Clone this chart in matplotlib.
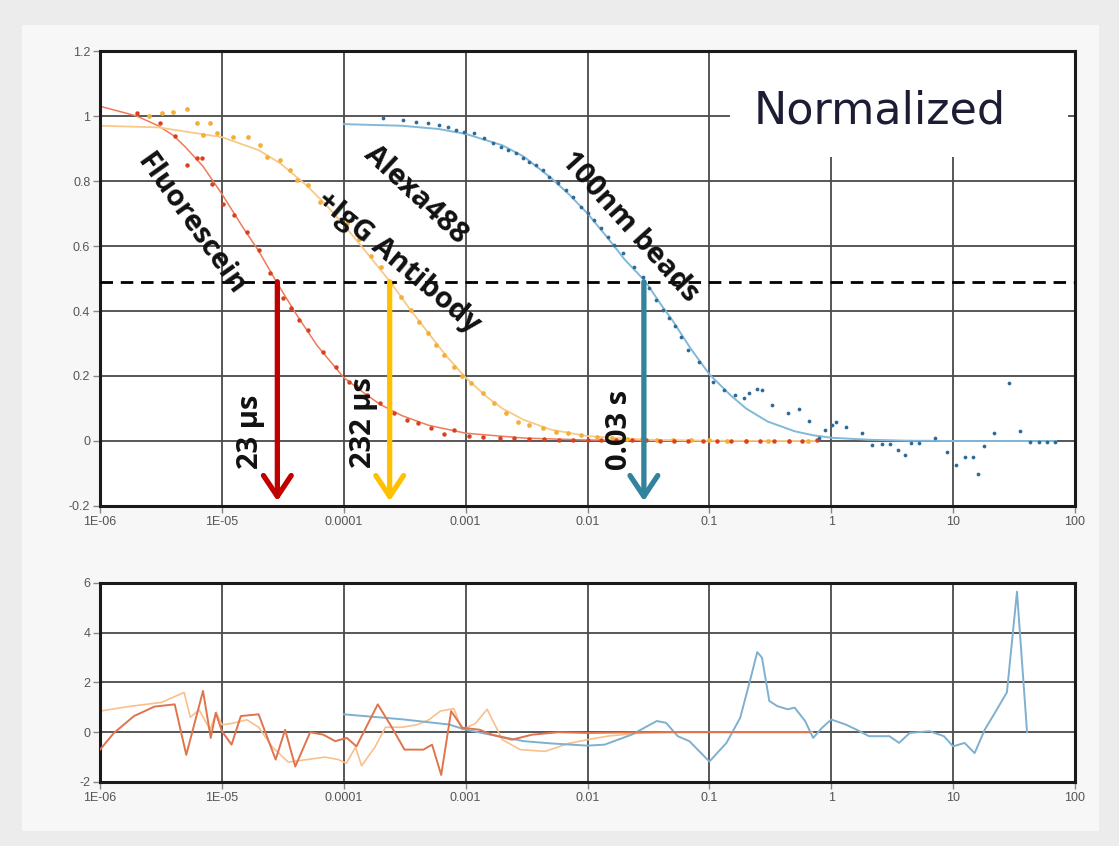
"""
plot.py

Normalized FCS autocorrelation curves for Fluorescein, Alexa488 + IgG antibody
and 100nm beads (dots = data, thin lines = fits), half-decay arrows at G = 0.49,
and the fit residuals in a second panel underneath.

Output: out.png
"""

import matplotlib
matplotlib.use("Agg")
import matplotlib.pyplot as plt
from matplotlib.patches import Rectangle
from matplotlib.ticker import FixedLocator, FixedFormatter, NullLocator

# ---------------------------------------------------------------- data
X_TICKS = [1e-6, 1e-5, 1e-4, 1e-3, 1e-2, 1e-1, 1, 10, 100]
X_TICK_LABELS = ["1E-06", "1E-05", "0.0001", "0.001", "0.01", "0.1", "1", "10", "100"]
Y_TICKS_TOP = [-0.2, 0, 0.2, 0.4, 0.6, 0.8, 1, 1.2]
Y_TICK_LABELS_TOP = ["-0.2", "0", "0.2", "0.4", "0.6", "0.8", "1", "1.2"]
Y_TICKS_BOT = [-2, 0, 2, 4, 6]
Y_TICK_LABELS_BOT = ["-2", "0", "2", "4", "6"]

# Fluorescein data points
fl_t = [2.0e-6, 3.1e-6, 4.1e-6, 5.2e-6, 6.3e-6, 6.9e-6, 8.3e-6, 1.02e-5, 1.25e-5,
        1.6e-5, 2.0e-5, 2.5e-5, 3.2e-5, 3.7e-5, 4.3e-5, 5.1e-5, 6.7e-5, 8.6e-5,
        1.1e-4, 1.25e-4, 1.55e-4, 2.0e-4, 2.6e-4, 3.3e-4, 4.1e-4, 5.2e-4, 6.6e-4,
        8.0e-4, 1.06e-3, 1.4e-3, 1.9e-3, 2.5e-3, 3.3e-3, 4.4e-3, 5.8e-3, 7.6e-3,
        0.010, 0.013, 0.017, 0.023, 0.030, 0.039, 0.051, 0.067, 0.088, 0.115,
        0.15, 0.20, 0.26, 0.34, 0.45, 0.58, 0.76]
fl_g = [1.01, 0.98, 0.94, 0.85, 0.87, 0.87, 0.79, 0.73, 0.695,
        0.643, 0.588, 0.517, 0.44, 0.409, 0.372, 0.342, 0.274, 0.228,
        0.182, 0.17, 0.14, 0.117, 0.086, 0.065, 0.055, 0.040, 0.021,
        0.034, 0.015, 0.012, 0.010, 0.008, 0.006, 0.005, 0.004, 0.004,
        0.003, 0.003, 0.002, 0.002, 0.002, 0.001, 0.001, 0.001, 0.0, 0.0,
        0.0, 0.0, 0.0, 0.0, 0.0, 0.0, 0.002]
fl_fit_t = [1e-6, 2e-6, 3e-6, 4e-6, 5e-6, 7e-6, 1e-5, 1.5e-5, 2e-5, 2.8e-5, 4e-5,
            6e-5, 1e-4, 1.5e-4, 2e-4, 3e-4, 5e-4, 1e-3, 3e-3, 1e-2, 0.1, 0.76]
fl_fit_g = [1.03, 1.0, 0.97, 0.94, 0.905, 0.845, 0.76, 0.655, 0.585, 0.49, 0.395,
            0.295, 0.195, 0.145, 0.112, 0.078, 0.048, 0.024, 0.009, 0.003, 0.0, 0.0]

# Alexa488 + IgG antibody data points
al_t = [2.5e-6, 3.2e-6, 4.0e-6, 5.2e-6, 6.3e-6, 7.0e-6, 8.0e-6, 9.2e-6, 1.24e-5,
        1.65e-5, 2.07e-5, 2.36e-5, 3.02e-5, 3.65e-5, 4.17e-5, 5.04e-5, 6.44e-5,
        8.24e-5, 1.07e-4, 1.33e-4, 1.66e-4, 2.01e-4, 2.43e-4, 2.93e-4, 3.54e-4,
        4.12e-4, 4.89e-4, 5.69e-4, 6.62e-4, 8.0e-4, 9.4e-4, 1.1e-3, 1.38e-3,
        1.71e-3, 2.14e-3, 2.69e-3, 3.31e-3, 4.32e-3, 5.52e-3, 6.92e-3, 8.85e-3,
        0.012, 0.016, 0.021, 0.028, 0.037, 0.05, 0.07, 0.1, 0.14, 0.2, 0.3, 0.45, 0.65]
al_g = [1.0, 1.01, 1.012, 1.022, 0.978, 0.942, 0.978, 0.948, 0.935,
        0.935, 0.911, 0.874, 0.865, 0.834, 0.803, 0.788, 0.735,
        0.702, 0.671, 0.623, 0.57, 0.534, 0.486, 0.443, 0.403,
        0.366, 0.332, 0.295, 0.265, 0.228, 0.2, 0.178, 0.148,
        0.117, 0.086, 0.058, 0.049, 0.04, 0.028, 0.025, 0.018,
        0.012, 0.009, 0.007, 0.005, 0.004, 0.003, 0.002, 0.002, 0.001, 0.001, 0.0, 0.0, 0.0]
al_fit_t = [1e-6, 3e-6, 1e-5, 2e-5, 3e-5, 5e-5, 7e-5, 1e-4, 1.5e-4, 2.4e-4, 3.5e-4,
            5e-4, 7e-4, 1e-3, 1.5e-3, 2e-3, 3e-3, 5e-3, 1e-2, 3e-2, 0.1, 0.76]
al_fit_g = [0.97, 0.965, 0.935, 0.895, 0.855, 0.785, 0.73, 0.665, 0.585, 0.49, 0.405,
            0.33, 0.26, 0.195, 0.135, 0.1, 0.065, 0.035, 0.015, 0.004, 0.001, 0.0]

# 100nm beads data points
bd_t = [2.08e-4, 3.05e-4, 3.89e-4, 4.89e-4, 6.02e-4, 7.14e-4, 8.30e-4, 9.66e-4,
        1.17e-3, 1.41e-3, 1.67e-3, 1.95e-3, 2.22e-3, 2.59e-3, 2.95e-3, 3.31e-3,
        3.78e-3, 4.31e-3, 4.83e-3, 5.73e-3, 6.67e-3, 7.62e-3, 8.86e-3, 1.01e-2,
        1.13e-2, 1.29e-2, 1.48e-2, 1.66e-2, 1.96e-2, 2.42e-2, 2.87e-2, 3.21e-2,
        3.67e-2, 4.19e-2, 4.69e-2, 0.052, 0.058, 0.0671, 0.0828, 0.108, 0.133,
        0.161, 0.191, 0.213, 0.244, 0.268, 0.324, 0.438, 0.539, 0.652, 0.787,
        0.883, 1.007, 1.09, 1.31, 1.78, 2.15, 2.60, 3.02, 3.51, 4.01, 4.50, 5.24,
        7.09, 8.89, 10.5, 12.5, 14.6, 16.0, 17.9, 21.7, 28.8, 35.4, 42.8, 50.8,
        59.1, 68.7]
bd_g = [0.994, 0.988, 0.982, 0.978, 0.972, 0.966, 0.957, 0.951,
        0.948, 0.932, 0.917, 0.905, 0.895, 0.886, 0.871, 0.858,
        0.849, 0.834, 0.812, 0.794, 0.772, 0.751, 0.720, 0.702,
        0.680, 0.655, 0.628, 0.603, 0.578, 0.535, 0.505, 0.471,
        0.434, 0.403, 0.378, 0.355, 0.32, 0.28, 0.243, 0.182, 0.157,
        0.142, 0.132, 0.148, 0.16, 0.157, 0.111, 0.086, 0.098, 0.062, 0.009,
        0.034, 0.049, 0.058, 0.043, 0.025, -0.012, -0.009, -0.009, -0.028, -0.043, -0.006, -0.006,
        0.009, -0.034, -0.074, -0.049, -0.049, -0.102, -0.015, 0.025, 0.178, 0.031, -0.003, -0.003,
        -0.003, -0.003]
bd_fit_t = [1e-4, 3e-4, 6e-4, 1e-3, 2e-3, 3e-3, 5e-3, 7e-3, 1e-2, 1.5e-2, 2e-2, 3e-2,
            4e-2, 5e-2, 7e-2, 0.1, 0.15, 0.2, 0.3, 0.5, 0.7, 1.0, 2.0, 4.0, 10, 70]
bd_fit_g = [0.975, 0.97, 0.96, 0.945, 0.91, 0.875, 0.81, 0.76, 0.70, 0.62, 0.56, 0.49,
            0.42, 0.37, 0.285, 0.205, 0.14, 0.10, 0.06, 0.03, 0.018, 0.01, 0.004, 0.001, 0.0, 0.0]

# half-decay times (arrow positions) and their labels
HALF_LEVEL = 0.49
half_t = [2.85e-5, 2.38e-4, 0.029]
half_labels = ["23 µs", "232 µs", "0.03 s"]
half_label_x = [1.71e-5, 1.46e-4, 0.0182]
half_label_y = [0.028, 0.058, 0.034]

# curve names and where they sit along the curves
curve_names = ["Fluorescein", "Alexa488", "+IgG Antibody", "100nm beads"]
curve_name_x = [5.6e-6, 3.89e-4, 2.83e-4, 0.022]
curve_name_y = [0.665, 0.757, 0.551, 0.658]
curve_name_rot = [-54.5, -43, -40, -48]

# residuals
fl_res_t = [1.0e-6, 1.3e-6, 1.9e-6, 2.8e-6, 4.1e-6, 5.1e-6, 7.0e-6, 8.1e-6, 8.9e-6,
            1.0e-5, 1.2e-5, 1.43e-5, 2.0e-5, 2.76e-5, 3.3e-5, 4.0e-5, 5.3e-5, 6.8e-5,
            8.5e-5, 1.06e-4, 1.27e-4, 1.9e-4, 2.45e-4, 3.15e-4, 4.5e-4, 5.3e-4, 6.3e-4,
            7.6e-4, 9.4e-4, 1.3e-3, 1.65e-3, 2.4e-3, 3.5e-3, 5.8e-3, 0.01, 0.03, 0.1,
            0.3, 0.66]
fl_res = [-0.70, -0.03, 0.65, 1.03, 1.12, -0.91, 1.66, -0.23, 0.78,
          0.04, -0.5, 0.65, 0.72, -1.1, 0.1, -1.38, 0.0, -0.1,
          -0.36, -0.23, -0.57, 1.12, 0.24, -0.7, -0.7, -0.5, -1.72,
          0.85, 0.18, 0.1, -0.1, -0.3, -0.1, 0.0, -0.03, 0.0, 0.0,
          0.0, 0.0]
al_res_t = [1.0e-6, 1.7e-6, 3.2e-6, 4.9e-6, 5.5e-6, 6.5e-6, 8e-6, 9e-6, 1.0e-5,
            1.2e-5, 1.6e-5, 2.0e-5, 2.6e-5, 3.5e-5, 5e-5, 7e-5, 9e-5, 1.05e-4,
            1.25e-4, 1.4e-4, 1.8e-4, 2.2e-4, 3e-4, 4e-4, 5e-4, 6.2e-4, 8e-4,
            9.3e-4, 1.2e-3, 1.5e-3, 2.0e-3, 2.8e-3, 4.5e-3, 7e-3, 0.01, 0.015,
            0.025, 0.05, 0.1, 0.3, 0.7]
al_res = [0.85, 1.03, 1.2, 1.6, 0.6, 0.9, 0.1, 0.8, 0.3,
          0.35, 0.5, 0.2, -0.6, -1.2, -1.1, -1.0, -1.1, -1.25,
          -0.6, -1.35, -0.6, 0.2, 0.2, 0.3, 0.5, 0.85, 0.95,
          0.1, 0.35, 0.92, -0.3, -0.7, -0.77, -0.45, -0.3, -0.15,
          -0.05, 0.0, 0.0, 0.0, 0.0]
bd_res_t = [1.0e-4, 3e-4, 7.3e-4, 1.0e-3, 1.6e-3, 3e-3, 5e-3, 0.01, 0.0138, 0.023,
            0.037, 0.044, 0.055, 0.0685, 0.1, 0.138, 0.179, 0.217, 0.247, 0.27,
            0.31, 0.36, 0.44, 0.50, 0.61, 0.71, 0.84, 1.0, 1.31, 1.6, 2.04, 3.0,
            3.6, 4.4, 6.4, 8.4, 10, 12.4, 15, 18.2, 22, 27.6, 33.4, 40.4]
bd_res = [0.72, 0.52, 0.31, 0.1, -0.1, -0.36, -0.45, -0.54, -0.5, -0.1,
          0.45, 0.38, -0.16, -0.36, -1.18, -0.43, 0.58, 2.14, 3.22, 3.0,
          1.26, 1.05, 0.92, 0.99, 0.45, -0.23, 0.18, 0.51, 0.31, 0.11, -0.16, -0.16,
          -0.43, -0.03, 0.04, -0.16, -0.57, -0.43, -0.84, 0.11, 0.78, 1.6, 5.65, 0.0]

# ---------------------------------------------------------------- style
RED_DOT, RED_FIT, RED_RES, RED_ARROW = "#d8401e", "#f07a5a", "#e0744c", "#c00000"
YEL_DOT, YEL_FIT, YEL_RES, YEL_ARROW = "#f2b03a", "#f9c98a", "#f9c08c", "#ffc000"
BLU_DOT, BLU_FIT, BLU_RES, BLU_ARROW = "#2d6a98", "#82b8d8", "#7fb0cf", "#31849b"
GRID = "#4a4a4a"
LABEL_FONT = ["Open Sans", "DejaVu Sans"]
LABEL_KW = dict(fontsize=21, family=LABEL_FONT, weight="bold", color="#111111", zorder=6)


def style_axes(ax, yticks, ylabels, ylim):
    ax.set_xscale("log")
    ax.set_xlim(1e-6, 100)
    ax.set_ylim(*ylim)
    ax.xaxis.set_major_locator(FixedLocator(X_TICKS))
    ax.xaxis.set_major_formatter(FixedFormatter(X_TICK_LABELS))
    ax.xaxis.set_minor_locator(NullLocator())
    ax.yaxis.set_major_locator(FixedLocator(yticks))
    ax.yaxis.set_major_formatter(FixedFormatter(ylabels))
    ax.grid(True, color=GRID, lw=1.3)
    ax.tick_params(direction="out", length=5, width=1, color="#888888",
                   labelcolor="#555555", labelsize=9, pad=2)
    for lab in ax.get_xticklabels() + ax.get_yticklabels():
        lab.set_family("Liberation Sans")
    for s in ax.spines.values():
        s.set_color("#1a1a1a")
        s.set_linewidth(2.2)


def main():
    fig = plt.figure(figsize=(11.19, 8.46), dpi=100)
    fig.patch.set_facecolor("#ececec")
    fig.add_artist(Rectangle((0.02, 0.018), 0.962, 0.952, transform=fig.transFigure,
                             facecolor="#f7f7f7", edgecolor="none", zorder=0))

    ax = fig.add_axes([0.0894, 0.4019, 0.8713, 0.5378])
    ax2 = fig.add_axes([0.0894, 0.0757, 0.8713, 0.2352])

    # ---- top panel: normalized correlation curves
    style_axes(ax, Y_TICKS_TOP, Y_TICK_LABELS_TOP, (-0.2, 1.2))
    ax.plot(fl_fit_t, fl_fit_g, color=RED_FIT, lw=1.1, zorder=2)
    ax.plot(al_fit_t, al_fit_g, color=YEL_FIT, lw=1.3, zorder=2)
    ax.plot(bd_fit_t, bd_fit_g, color=BLU_FIT, lw=1.4, zorder=2)
    ax.plot(al_t, al_g, "o", color=YEL_DOT, ms=3.4, mec="none", zorder=3)
    ax.plot(fl_t, fl_g, "o", color=RED_DOT, ms=3.2, mec="none", zorder=3)
    ax.plot(bd_t, bd_g, "o", color=BLU_DOT, ms=2.7, mec="none", zorder=3)

    ax.axhline(HALF_LEVEL, color="black", lw=2, ls=(0, (4.5, 2.8)), zorder=4)

    for t, col in zip(half_t, [RED_ARROW, YEL_ARROW, BLU_ARROW]):
        ax.annotate("", xy=(t, -0.185), xytext=(t, HALF_LEVEL),
                    arrowprops=dict(arrowstyle="->,head_length=1.5,head_width=1.0",
                                    color=col, lw=3.8, shrinkA=0, shrinkB=0),
                    zorder=5)
    # rotated value labels next to each arrow
    for lab, x, y in zip(half_labels, half_label_x, half_label_y):
        ax.text(x, y, lab, rotation=90, ha="center", va="center", **LABEL_KW)

    # curve names written along the curves
    for txt, x, y, rot in zip(curve_names, curve_name_x, curve_name_y, curve_name_rot):
        ax.text(x, y, txt, rotation=rot, rotation_mode="anchor", ha="center",
                va="center", **LABEL_KW)

    # white box behind the "Normalized" caption hides the grid there
    ax.add_patch(Rectangle((0.646, 0.767), 0.347, 0.233, transform=ax.transAxes,
                           facecolor="white", edgecolor="none", zorder=1.8))
    ax.text(0.80, 0.868, "Normalized", transform=ax.transAxes, ha="center",
            va="center", fontsize=32, color="#1c1c34", family="DejaVu Sans",
            zorder=6)

    # ---- bottom panel: residuals
    style_axes(ax2, Y_TICKS_BOT, Y_TICK_LABELS_BOT, (-2, 6))
    ax2.plot(al_res_t, al_res, color=YEL_RES, lw=1.2, zorder=2)
    ax2.plot(bd_res_t, bd_res, color=BLU_RES, lw=1.4, zorder=2)
    ax2.plot(fl_res_t, fl_res, color=RED_RES, lw=1.4, zorder=3)

    fig.savefig("out.png", dpi=100, facecolor=fig.get_facecolor())
    plt.close(fig)


if __name__ == "__main__":
    main()
